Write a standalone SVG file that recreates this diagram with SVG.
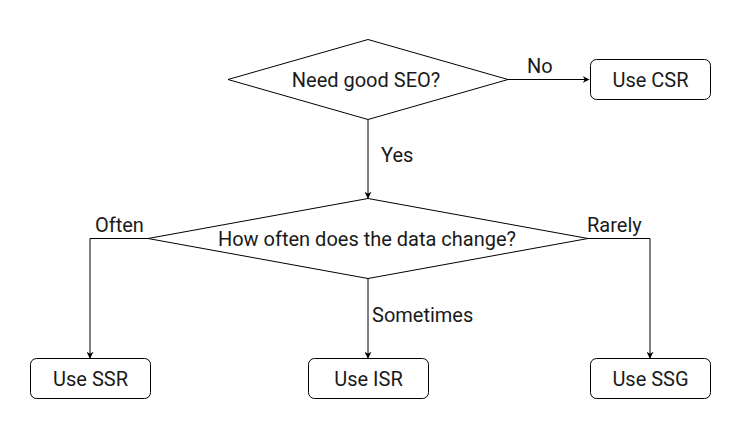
<svg xmlns="http://www.w3.org/2000/svg" width="745" height="436" viewBox="0 0 745 436">
<style>
.s{fill:#fff;stroke:#000;stroke-width:1}
.e{fill:none;stroke:#000;stroke-width:1;marker-end:url(#a)}
text{font-family:Roboto,"Liberation Sans",sans-serif;font-size:20px;fill:#1a1a1a}
.c{text-anchor:middle;dominant-baseline:central}
</style>
<defs>
<marker id="a" viewBox="0 0 10 10" refX="9" refY="5" markerWidth="7" markerHeight="7" markerUnits="userSpaceOnUse" orient="auto">
<path d="M0,0 L10,5 L0,10 L3,5 Z" fill="#000"/>
</marker>
</defs>
<rect width="745" height="436" fill="#fff"/>
<g id="edges">
<path class="e" d="M508,79.5 H589"/>
<path class="e" d="M368,119 V198"/>
<path class="e" d="M148,238.5 H90 V358"/>
<path class="e" d="M368,278 V358"/>
<path class="e" d="M588,238.5 H650 V358"/>
<text x="527" y="73">No</text>
<text x="381" y="162">Yes</text>
<text x="95" y="232">Often</text>
<text x="587" y="232">Rarely</text>
<text x="372" y="322">Sometimes</text>
</g>
<g id="seo"><path class="s" d="M368,39.5 L508,79.5 L368,119.5 L228,79.5 Z"/><text class="c" x="366" y="79.5">Need good SEO?</text></g>
<g id="csr"><rect class="s" x="590.5" y="59.5" width="120" height="40" rx="6"/><text class="c" x="650.5" y="79.5">Use CSR</text></g>
<g id="freq"><path class="s" d="M368,198.5 L588,238.5 L368,278.5 L148,238.5 Z"/><text class="c" x="367" y="238.5">How often does the data change?</text></g>
<g id="ssr"><rect class="s" x="30.5" y="358.5" width="120" height="40" rx="6"/><text class="c" x="90.5" y="378.5">Use SSR</text></g>
<g id="isr"><rect class="s" x="308.5" y="358.5" width="120" height="40" rx="6"/><text class="c" x="368.5" y="378.5">Use ISR</text></g>
<g id="ssg"><rect class="s" x="590.5" y="358.5" width="120" height="40" rx="6"/><text class="c" x="650.5" y="378.5">Use SSG</text></g>
</svg>
